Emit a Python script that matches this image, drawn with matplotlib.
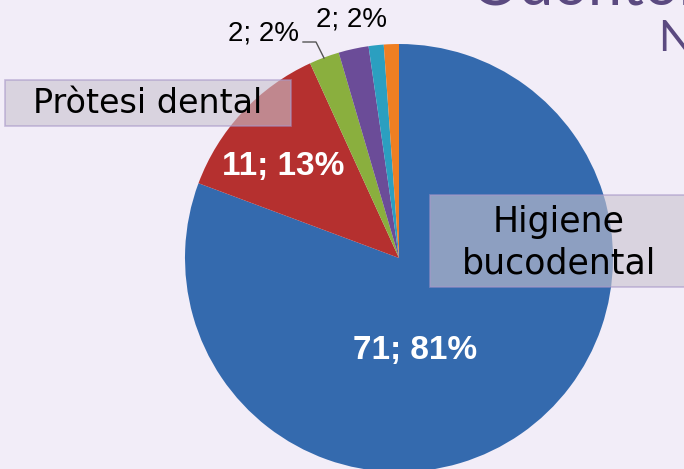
import matplotlib.pyplot as plt
from matplotlib.patches import FancyBboxPatch

# data
categories = ["Higiene bucodental", "Pròtesi dental", "Cat3", "Cat4", "Cat5", "Cat6"]
values = [71, 11, 2, 2, 1, 1]
colors = ["#346aae", "#b5302f", "#8aaf3e", "#6b4c98", "#2b9fc0", "#ef7f22"]
value_labels = ["71; 81%", "11; 13%", "2; 2%", "2; 2%", "", ""]

bg = "#f2edf8"
fig = plt.figure(figsize=(6.84, 4.69), dpi=100, facecolor=bg)
ax = fig.add_axes([0, 0, 1, 1])
ax.set_facecolor(bg)

H = 469
cx, cy, r = 399, H - 258, 214
ax.pie(values, colors=colors, startangle=90, counterclock=False,
       center=(cx, cy), radius=r, frame=True,
       wedgeprops=dict(linewidth=0))
ax.set_xlim(0, 684)
ax.set_ylim(0, 469)
ax.axis("off")

# value labels
ax.text(415, H - 350, value_labels[0], color="white", fontsize=24,
        fontweight="bold", ha="center", va="center", family="Liberation Sans")
ax.text(283, H - 166, value_labels[1], color="white", fontsize=24,
        fontweight="bold", ha="center", va="center", family="Liberation Sans")
ax.text(263, H - 33, value_labels[2], color="black", fontsize=20,
        ha="center", va="center", family="Liberation Sans")
ax.text(352, H - 19, value_labels[3], color="black", fontsize=20,
        ha="center", va="center", family="Liberation Sans")
ax.plot([303, 316, 324], [H - 42, H - 42, H - 58], color="#555555", lw=1)

# category boxes
box1 = FancyBboxPatch((5, H - 126), 286, 46, boxstyle="square,pad=0",
                      facecolor="#c9c3cf", alpha=0.6, edgecolor="#a796c8", lw=1.2)
ax.add_patch(box1)
ax.text(148, H - 103, categories[1], fontsize=24, ha="center", va="center",
        color="black", family="DejaVu Sans")
box2 = FancyBboxPatch((430, H - 287), 270, 92, boxstyle="square,pad=0",
                      facecolor="#c9c3cf", alpha=0.6, edgecolor="#a796c8", lw=1.2)
ax.add_patch(box2)
ax.text(559, H - 222, "Higiene", fontsize=25, ha="center", va="center",
        color="black", family="DejaVu Sans")
ax.text(559, H - 263, "bucodental", fontsize=25, ha="center", va="center",
        color="black", family="DejaVu Sans")

# partial slide title (cut off by the slide crop)
ax.text(470, H - 4, "Odontologia", fontsize=44, ha="left", va="baseline",
        color="#5b4a80", family="Lato", clip_on=True)
ax.text(658, H - 39, "N", fontsize=31, ha="left", va="center",
        color="#5b4a80", family="Lato", clip_on=True)

fig.savefig("out.png", dpi=100, facecolor=bg)
